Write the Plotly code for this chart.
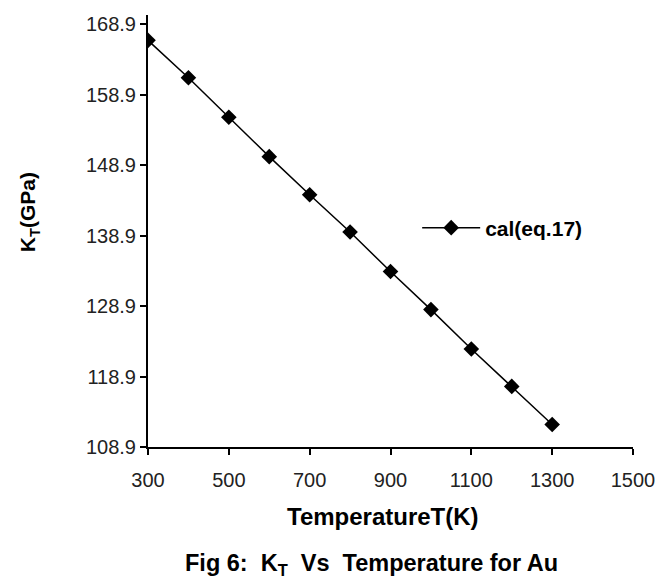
import plotly.graph_objects as go

temperature = [300, 400, 500, 600, 700, 800, 900, 1000, 1100, 1200, 1300]
kt_gpa = [166.6, 161.3, 155.7, 150.1, 144.7, 139.4, 133.8, 128.4, 122.8, 117.5, 112.1]
series_name = "cal(eq.17)"
x_ticks = [300, 500, 700, 900, 1100, 1300, 1500]
y_ticks = [108.9, 118.9, 128.9, 138.9, 148.9, 158.9, 168.9]

FONT = "Arial, Liberation Sans, sans-serif"

fig = go.Figure()
fig.add_trace(go.Scatter(
    x=temperature, y=kt_gpa, mode="lines+markers", name=series_name,
    line=dict(color="black", width=1.5),
    marker=dict(symbol="diamond", size=12, color="black"),
))

fig.update_layout(
    width=668, height=583,
    margin=dict(l=148, r=35, t=15, b=136),
    paper_bgcolor="white", plot_bgcolor="white",
    font=dict(family=FONT, color="black", size=15),
    showlegend=True,
    legend=dict(x=0.555, y=0.507, xanchor="left", yanchor="middle", itemwidth=58,
                bgcolor="rgba(0,0,0,0)",
                font=dict(family=FONT, size=21, color="black", weight="bold")),
    xaxis=dict(range=[300, 1500], tickvals=x_ticks, ticktext=[str(v) for v in x_ticks],
               showgrid=False, zeroline=False, showline=True, linecolor="black", linewidth=2,
               ticks="outside", ticklen=6, tickwidth=2, tickcolor="black", ticklabelstandoff=8,
               tickfont=dict(family=FONT, size=20, color="#222")),
    yaxis=dict(range=[108.9, 170.2], tickvals=y_ticks, ticktext=[f"{v:.1f}" for v in y_ticks],
               showgrid=False, zeroline=False, showline=True, linecolor="black", linewidth=2,
               ticks="outside", ticklen=6, tickwidth=2, tickcolor="black",
               tickfont=dict(family=FONT, size=20, color="#222")),
)

fig.add_annotation(text="TemperatureT(K)", xref="paper", yref="paper",
                   x=0.485, y=-0.16, xanchor="center", yanchor="middle", showarrow=False,
                   font=dict(family=FONT, size=24, color="black", weight="bold"))
fig.add_annotation(text="K<sub>T</sub>(GPa)", xref="paper", yref="paper",
                   x=-0.245, y=0.544, xanchor="center", yanchor="middle", showarrow=False,
                   textangle=-90,
                   font=dict(family=FONT, size=21, color="black", weight="bold"))
fig.add_annotation(text="Fig 6:  K<sub>T</sub>  Vs  Temperature for Au", xref="paper", yref="paper",
                   x=0.46, y=-0.272, xanchor="center", yanchor="middle", showarrow=False,
                   font=dict(family=FONT, size=23.5, color="black", weight="bold"))

fig.write_html("out.html")
